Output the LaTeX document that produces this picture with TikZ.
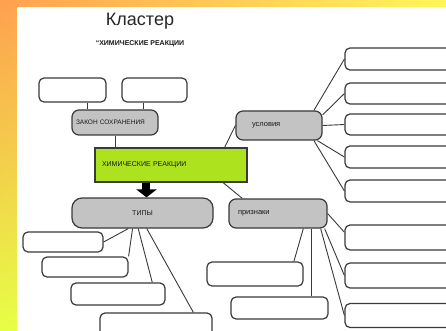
\documentclass[tikz,border=0pt]{standalone}
\usepackage{fontspec}
\setmainfont{Liberation Sans}
\usetikzlibrary{arrows.meta,positioning,calc,shadings}
\definecolor{Ink}{HTML}{3A3A3A}
\definecolor{BoxGray}{HTML}{C3C3C3}
\definecolor{ReactGreen}{HTML}{ACE21E}
\definecolor{FrameOrange}{HTML}{FFA050}
\definecolor{FrameYellow}{HTML}{FFF65A}
\definecolor{FrameLime}{HTML}{E6FF45}

\begin{document}
\begin{tikzpicture}[x=1pt,y=-1pt,
  leaf/.style={draw=Ink,line width=1.2pt,fill=white,rounded corners=5pt,inner sep=0pt},
  hub/.style={draw=Ink,line width=1.2pt,fill=BoxGray,rounded corners=7pt,text=black!90,font=\fontsize{7}{8}\selectfont},
  link/.style={Ink,line width=0.9pt},
  bigarrow/.style={black,line width=8pt,-{Triangle[length=8pt,width=20pt]}}]
\useasboundingbox (0,0) rectangle (446,331);
\clip (0,0) rectangle (446,331);
% frame
\shade[upper left=FrameOrange,upper right=FrameYellow,lower left=FrameLime,lower right=FrameYellow] (0,0) rectangle (446,331);
\fill[white] (17,7) rectangle (446,331);
\node[font=\fontsize{18}{20}\selectfont,text=black!85] (title) at (140,21) {Кластер};
\node[font=\bfseries\fontsize{7}{8}\selectfont,text=black!90] (subtitle) at (140,44) {“ХИМИЧЕСКИЕ РЕАКЦИИ};
% main boxes
\node[hub,minimum width=86pt,minimum height=25pt,text width=78pt,inner xsep=4pt,align=left,font=\fontsize{6.5}{7}\selectfont] (law) at (115,122.5) {ЗАКОН СОХРАНЕНИЯ};
\node[draw=Ink,line width=1.2pt,fill=ReactGreen,minimum width=152pt,minimum height=34pt,text width=138pt,inner xsep=7pt,align=left,text=black!90,font=\fontsize{7}{8}\selectfont] (react) at (171,165) {ХИМИЧЕСКИЕ РЕАКЦИИ};
\node[hub,minimum width=141pt,minimum height=30pt,rounded corners=10pt] (types) at (142.5,213) {ТИПЫ};
\node[hub,minimum width=86pt,minimum height=29pt,text width=54pt,inner xsep=16pt,align=left,font=\fontsize{7.5}{8}\selectfont] (cond) at (279,125.5) {условия};
\node[hub,minimum width=98pt,minimum height=29pt,text width=80pt,inner xsep=9pt,align=left,font=\fontsize{7.5}{8}\selectfont] (signs) at (278,213.5) {признаки};
% empty boxes
\node[leaf,minimum width=67pt,minimum height=24pt] (lawA) at (72.5,90) {};
\node[leaf,minimum width=65pt,minimum height=24pt] (lawB) at (154.5,90) {};
\node[leaf,minimum width=125pt,minimum height=22pt] (condA) at (407.5,59) {};
\node[leaf,minimum width=125pt,minimum height=21pt] (condB) at (407.5,93.5) {};
\node[leaf,minimum width=125pt,minimum height=21pt] (condC) at (407.5,124.5) {};
\node[leaf,minimum width=125pt,minimum height=22pt] (condD) at (407.5,157) {};
\node[leaf,minimum width=125pt,minimum height=22pt] (condE) at (407.5,191) {};
\node[leaf,minimum width=125pt,minimum height=25pt] (signA) at (407.5,237.5) {};
\node[leaf,minimum width=125pt,minimum height=25pt] (signB) at (407.5,275.5) {};
\node[leaf,minimum width=125pt,minimum height=24pt] (signC) at (407.5,315.5) {};
\node[leaf,minimum width=96pt,minimum height=24pt] (signD) at (255,274) {};
\node[leaf,minimum width=97pt,minimum height=22pt] (signE) at (279.5,308) {};
\node[leaf,minimum width=80pt,minimum height=20pt] (typeA) at (63,242) {};
\node[leaf,minimum width=86pt,minimum height=20pt] (typeB) at (85,267) {};
\node[leaf,minimum width=94pt,minimum height=22pt] (typeC) at (118,294) {};
\node[leaf,minimum width=112pt,minimum height=30pt] (typeD) at (156,328) {};
% connectors
\coordinate (lawAfoot) at ($(lawA.south west)!.72!(lawA.south east)$);
\coordinate (lawBfoot) at ($(lawB.south west)!.34!(lawB.south east)$);
\coordinate (reactFoot) at ($(react.south west)!.34!(react.south east)$);
\coordinate (signsFoot) at ($(signs.south west)!.84!(signs.south east)$);
\draw[link] (lawAfoot) -- (lawAfoot |- law.north);
\draw[link] (lawBfoot) -- (lawBfoot |- law.north);
\draw[link] (law.south) -- (law.south |- react.north);
\draw[bigarrow] (reactFoot) -- (reactFoot |- types.north);
\draw[link] ($(react.north west)!.85!(react.north east)$) -- (cond.west);
\draw[link] ($(react.south west)!.84!(react.south east)$) -- ($(signs.north west)!.14!(signs.north east)$);
\draw[link] (typeA.east) -- ($(types.south west)!.40!(types.south east)$);
\draw[link] (typeB.north east) -- ($(types.south west)!.43!(types.south east)$);
\draw[link] ($(typeC.north west)!.86!(typeC.north east)$) -- ($(types.south west)!.47!(types.south east)$);
\draw[link] ($(typeD.north west)!.83!(typeD.north east)$) -- ($(types.south west)!.53!(types.south east)$);
\draw[link] ($(cond.north west)!.9!(cond.north east)$) -- (condA.west);
\draw[link] ($(cond.east)!.7!(cond.north east)$) -- (condB.west);
\draw[link] (cond.east) -- (condC.west);
\draw[link] ($(cond.south west)!.94!(cond.south east)$) -- (condD.west);
\draw[link] ($(cond.south west)!.9!(cond.south east)$) -- (condE.west);
\draw[link] (signs.east) -- ($(signA.north west)!.3!(signA.south west)$);
\draw[link] ($(signs.south west)!.97!(signs.south east)$) -- (signB.west);
\draw[link] ($(signs.south west)!.93!(signs.south east)$) -- (signC.west);
\draw[link] ($(signD.north west)!.9!(signD.north east)$) -- ($(signs.south west)!.755!(signs.south east)$);
\draw[link] (signsFoot) -- (signsFoot |- signE.north);
\end{tikzpicture}
\end{document}
